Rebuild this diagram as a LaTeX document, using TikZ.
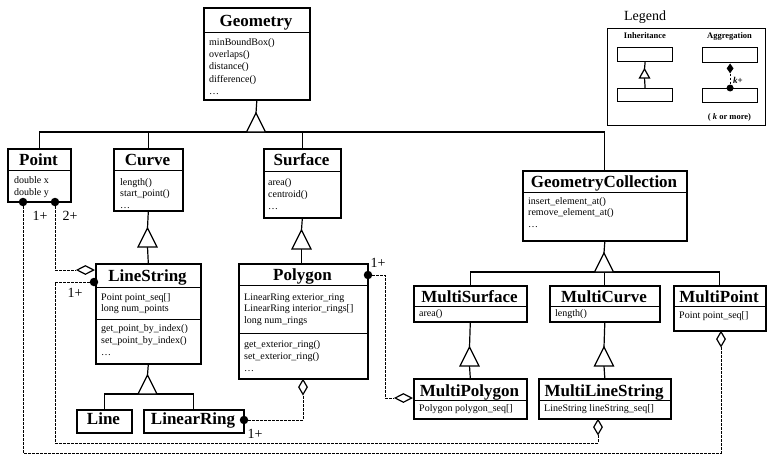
\documentclass[tikz,border=0pt]{standalone}
\usepackage{fontspec}
\setmainfont{Liberation Serif}
\usetikzlibrary{shapes.geometric}

% class box: name, x1, y1, x2, y2 (top-left / bottom-right corners)
\newcommand\mkclass[5]{%
  \node[classbox, minimum width={#4-#2}, minimum height={#5-#3}, anchor=north west] (#1) at (#2,#3) {};}
% compartment separator: x1, x2, y
\newcommand\mksep[3]{\draw[sepline] (#1,#3) -- (#2,#3);}

\begin{document}
\begin{tikzpicture}[x=1pt,y=-1pt,
  classbox/.style={draw, line width=1.6pt, inner sep=0pt, fill=white},
  sepline/.style={line width=1pt},
  title/.style={font=\fontsize{17}{20}\selectfont\bfseries, inner sep=0pt, anchor=base},
  attr/.style={font=\fontsize{10}{12}\selectfont, inner sep=0pt, anchor=base west},
  mult/.style={font=\fontsize{14}{16}\selectfont, inner sep=0pt},
  inhline/.style={line width=1.2pt},
  agg/.style={line width=1pt, dash pattern=on 2.5pt off 1.5pt},
  partdot/.style={circle, fill=black, inner sep=0pt, minimum size=8.5pt},
  aggdia/.style={diamond, draw, fill=white, line width=1.2pt, inner sep=0pt, solid},
  hdia/.style={aggdia, minimum width=17pt, minimum height=9pt},
  vdia/.style={aggdia, minimum width=9pt, minimum height=15pt},
  legbox/.style={draw, line width=1.2pt, inner sep=0pt, anchor=north west},
  legtext/.style={font=\fontsize{8.5}{10}\selectfont\bfseries, inner sep=0pt, anchor=base},
  inhtri/.pic={\draw[line width=1.2pt, fill=white] (0,0) -- (-9.5,19) -- (9.5,19) -- cycle;},
]
\useasboundingbox (0,0) rectangle (767,455);

% ---------------- classes ----------------
\mkclass{geom}{203}{7}{309}{99}
\mksep{203}{309}{32}
\node[title] (geom-t) at (256,26) {Geometry};
\foreach \s/\yy [count=\i] in {minBoundBox()/45, overlaps()/57, distance()/69, difference()/82, \ldots/94}
  \node[attr] (geom-a\i) at (209,\yy) {\s};

\mkclass{point}{7}{148}{70}{201}
\mksep{7}{70}{170}
\node[title] (point-t) at (38.5,165) {Point};
\foreach \s/\yy [count=\i] in {double x/183, double y/195}
  \node[attr] (point-a\i) at (14,\yy) {\s};

\mkclass{curve}{113}{148}{182}{210}
\mksep{113}{182}{170}
\node[title] (curve-t) at (147.5,165) {Curve};
\foreach \s/\yy [count=\i] in {length()/185, start\_point()/196.5, \ldots/208}
  \node[attr] (curve-a\i) at (120,\yy) {\s};

\mkclass{surface}{263}{148}{340}{217}
\mksep{263}{340}{171}
\node[title] (surface-t) at (301.5,165) {Surface};
\foreach \s/\yy [count=\i] in {area()/185, centroid()/197, \ldots/209}
  \node[attr] (surface-a\i) at (268,\yy) {\s};

\mkclass{gc}{522}{170}{686}{240}
\mksep{522}{686}{192}
\node[title] (gc-t) at (604,187) {GeometryCollection};
\foreach \s/\yy [count=\i] in {insert\_element\_at()/204, remove\_element\_at()/215, \ldots/227}
  \node[attr] (gc-a\i) at (528,\yy) {\s};

\mkclass{linestring}{95}{263}{200}{363}
\mksep{95}{200}{287}
\mksep{95}{200}{319}
\node[title] (linestring-t) at (147.5,281) {LineString};
\foreach \s/\yy [count=\i] in {Point point\_seq[]/300, long num\_points/311,
    get\_point\_by\_index()/331, set\_point\_by\_index()/343, \ldots/355}
  \node[attr] (linestring-a\i) at (101,\yy) {\s};

\mkclass{polygon}{238}{263}{367}{378}
\mksep{238}{367}{285}
\mksep{238}{367}{333}
\node[title] (polygon-t) at (302.5,280) {Polygon};
\foreach \s/\yy [count=\i] in {LinearRing exterior\_ring/300, LinearRing interior\_rings[]/311.5,
    long num\_rings/323, get\_exterior\_ring()/347, set\_exterior\_ring()/359, \ldots/371}
  \node[attr] (polygon-a\i) at (244,\yy) {\s};

\mkclass{line}{76}{409}{131}{432}
\node[title] (line-t) at (103.5,424) {Line};

\mkclass{lring}{143}{409}{243}{432}
\node[title] (lring-t) at (193,424) {LinearRing};

\mkclass{msurf}{413}{285}{526}{321}
\mksep{413}{526}{306}
\node[title] (msurf-t) at (469.5,302) {MultiSurface};
\node[attr] (msurf-a1) at (419,316) {area()};

\mkclass{mcurve}{549}{285}{659}{321}
\mksep{549}{659}{306}
\node[title] (mcurve-t) at (604,302) {MultiCurve};
\node[attr] (mcurve-a1) at (555,316) {length()};

\mkclass{mpoint}{673}{285}{765}{330}
\mksep{673}{765}{306}
\node[title] (mpoint-t) at (719,302) {MultiPoint};
\node[attr] (mpoint-a1) at (679,318) {Point point\_seq[]};

\mkclass{mpolygon}{413}{378}{526}{418}
\mksep{413}{526}{400}
\node[title] (mpolygon-t) at (469.5,396) {MultiPolygon};
\node[attr] (mpolygon-a1) at (419,411) {Polygon polygon\_seq[]};

\mkclass{mlstring}{538}{378}{670}{418}
\mksep{538}{670}{400}
\node[title] (mlstring-t) at (604,396) {MultiLineString};
\node[attr] (mlstring-a1) at (544,411) {LineString lineString\_seq[]};

% ---------------- inheritance ----------------
\coordinate (g-apex) at (256,113);
\coordinate (g-bus) at (256,132);
\draw[inhline] (geom.south) -- (g-apex);
\draw[inhline] (point.north) -- (point.north |- g-bus) -| (gc.north);
\draw[inhline] (curve.north) -- (curve.north |- g-bus);
\draw[inhline] (surface.north) -- (surface.north |- g-bus);
\pic at (g-apex) {inhtri};

\coordinate (c-apex) at (147.5,228);
\coordinate (c-base) at (147.5,247);
\draw[inhline] (curve.south) -- (c-apex);
\draw[inhline] (c-base) -- (linestring.north);
\pic at (c-apex) {inhtri};

\coordinate (s-apex) at (301.5,230);
\coordinate (s-base) at (301.5,249);
\draw[inhline] (surface.south) -- (s-apex);
\draw[inhline] (s-base) -- (polygon.north -| s-base);
\pic at (s-apex) {inhtri};

\coordinate (ls-apex) at (147.5,375);
\coordinate (ls-bus) at (147.5,394);
\draw[inhline] (linestring.south) -- (ls-apex);
\draw[inhline] (line.north) -- (line.north |- ls-bus) -| (lring.north);
\pic at (ls-apex) {inhtri};

\coordinate (gc-apex) at (604,253);
\coordinate (gc-bus) at (604,272);
\draw[inhline] (gc.south) -- (gc-apex);
\draw[inhline] (msurf.north) -- (msurf.north |- gc-bus) -| (mpoint.north);
\draw[inhline] (mcurve.north) -- (mcurve.north |- gc-bus);
\pic at (gc-apex) {inhtri};

\coordinate (msf-apex) at (469.5,347);
\coordinate (msf-base) at (469.5,366);
\draw[inhline] (msurf.south) -- (msf-apex);
\draw[inhline] (msf-base) -- (mpolygon.north);
\pic at (msf-apex) {inhtri};

\coordinate (mc-apex) at (604,347);
\coordinate (mc-base) at (604,366);
\draw[inhline] (mcurve.south) -- (mc-apex);
\draw[inhline] (mc-base) -- (mlstring.north);
\pic at (mc-apex) {inhtri};

% ---------------- aggregation ----------------
\node[partdot] (pt-dot1) at (23,202) {};
\node[partdot] (pt-dot2) at (55,202) {};
\node[partdot] (ls-dot) at (94,282) {};
\node[partdot] (pg-dot) at (368,275) {};
\node[partdot] (lr-dot) at (244,420) {};

\node[hdia, anchor=east] (ls-dia) at (94.5,270) {};
\node[vdia, anchor=north] (pg-dia) at (303,379) {};
\node[hdia, anchor=east] (mpg-dia) at (412.5,398) {};
\node[vdia, anchor=north] (mls-dia) at (598,419) {};
\node[vdia, anchor=north] (mp-dia) at (721,331) {};

\coordinate (lane-in) at (55,443);
\coordinate (lane-out) at (23,453);
\coordinate (lane-pg) at (385,398);

\draw[agg] (pt-dot2) |- (ls-dia.west);
\draw[agg] (pt-dot1) -- (lane-out) -| (mp-dia.south);
\draw[agg] (ls-dot) -| (lane-in) -| (mls-dia.south);
\draw[agg] (pg-dot) -| (lane-pg) -- (mpg-dia.west);
\draw[agg] (lr-dot) -| (pg-dia.south);

\node[mult] (lbl-pt1) at (40,216) {1+};
\node[mult] (lbl-pt2) at (70,216) {2+};
\node[mult] (lbl-ls) at (75,293) {1+};
\node[mult] (lbl-pg) at (378,263) {1+};
\node[mult] (lbl-lr) at (255,434) {1+};

% ---------------- legend ----------------
\node[font=\fontsize{14}{16}\selectfont, inner sep=0pt, anchor=base] (lg-title) at (645,20) {Legend};
\node[draw, line width=1pt, inner sep=0pt, minimum width=158pt, minimum height=97pt, anchor=north west] (legend) at (607,28) {};
\node[legtext] (lg-inh) at (645,38) {Inheritance};
\node[legtext] (lg-agg) at (729.5,38) {Aggregation};

\node[legbox, minimum width=55pt, minimum height=14pt] (lg-a1) at (617,47) {};
\node[legbox, minimum width=55pt, minimum height=13pt] (lg-a2) at (617,88) {};
\coordinate (lg-apex) at (644.5,69);
\coordinate (lg-base) at (644.5,78);
\draw[inhline] (lg-a1.south) -- (lg-apex);
\draw[inhline] (lg-base) -- (lg-a2.north);
\draw[inhline, fill=white] (lg-apex) -- ++(-5,9) -- ++(10,0) -- cycle;

\node[legbox, minimum width=55pt, minimum height=15pt] (lg-b1) at (702,47) {};
\node[legbox, minimum width=55pt, minimum height=14pt] (lg-b2) at (702,88) {};
\node[diamond, fill=black, inner sep=0pt, minimum width=7pt, minimum height=10pt, anchor=north] (lg-dia) at (lg-b1.south) {};
\node[partdot, minimum size=7pt] (lg-dot) at (lg-b2.north) {};
\draw[agg] (lg-dia) -- (lg-dot);
\node[font=\fontsize{9}{10}\selectfont\bfseries, inner sep=0pt] (lg-k) at (738,80) {\textit{k}+};
\node[legtext] (lg-note) at (729.5,119) {( \textit{k} or more)};
\end{tikzpicture}
\end{document}
